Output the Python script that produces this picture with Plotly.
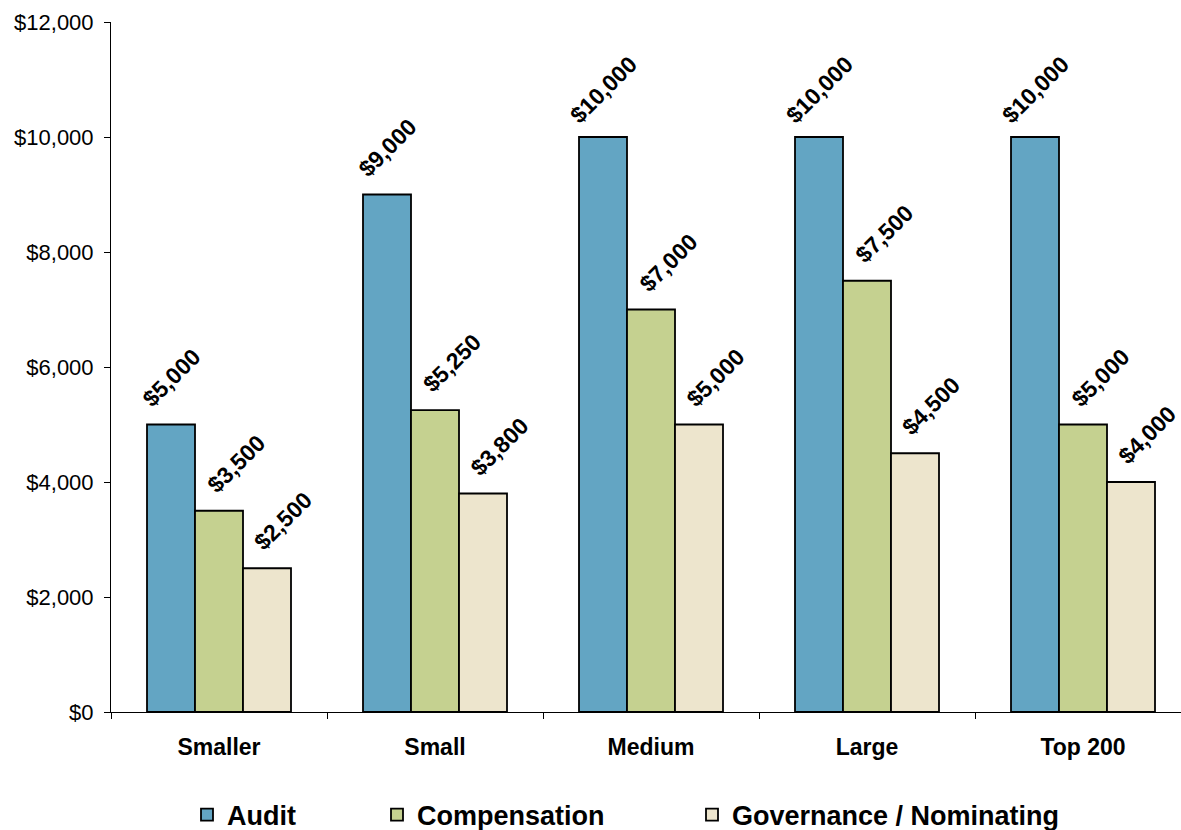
import plotly.graph_objects as go

# Median committee retainers by company size
categories = ["Smaller", "Small", "Medium", "Large", "Top 200"]
audit = [5000, 9000, 10000, 10000, 10000]
compensation = [3500, 5250, 7000, 7500, 5000]
governance = [2500, 3800, 5000, 4500, 4000]

series_names = ["Audit", "Compensation", "Governance / Nominating"]
series_values = [audit, compensation, governance]
series_colors = ["#63A5C3", "#C5D190", "#EDE5CD"]
legend_ids = ["legend", "legend2", "legend3"]

y_tick_vals = [0, 2000, 4000, 6000, 8000, 10000, 12000]
y_tick_text = ["$0", "$2,000", "$4,000", "$6,000", "$8,000", "$10,000", "$12,000"]

FONT = "Arial, Liberation Sans, sans-serif"

# Geometry of the plotting area (px)
WIDTH, HEIGHT = 1181, 830
M_L, M_R, M_T, M_B = 111, 0, 22, 118
CAT_PX = 216  # width of one category slot
plot_w = WIDTH - M_L - M_R
plot_h = HEIGHT - M_T - M_B
BARGAP = 1 / 3
n_series = len(series_names)
bar_w_units = (1 - BARGAP) / n_series

fig = go.Figure()
for name, vals, color, lg in zip(series_names, series_values, series_colors, legend_ids):
    fig.add_trace(go.Bar(
        name=name,
        x=categories,
        y=vals,
        marker=dict(color=color, line=dict(color="#000000", width=1.8)),
        legend=lg,
        hoverinfo="skip",
    ))

# Rotated value labels above each bar
label_dx = [0, 17, 16]
annotations = []
for s, vals in enumerate(series_values):
    offset = (s - (n_series - 1) / 2) * bar_w_units
    for i, v in enumerate(vals):
        annotations.append(dict(
            x=i + offset, y=v, xref="x", yref="y",
            text=f"${v:,.0f}",
            textangle=-45,
            showarrow=False,
            xanchor="center", yanchor="middle",
            xshift=label_dx[s], yshift=47,
            font=dict(family=FONT, size=23, color="#000000", weight="bold"),
        ))

# Legend entries laid out individually along the bottom
legend_text_px = [232, 422, 737]
legend_y = -(815 - (M_T + plot_h)) / plot_h
legend_layouts = {}
for lg, tx in zip(legend_ids, legend_text_px):
    legend_layouts[lg] = dict(
        orientation="h",
        x=(tx - 45 - M_L) / plot_w, xanchor="left",
        y=legend_y, yanchor="middle",
        font=dict(family=FONT, size=27, color="#000000", weight="bold"),
        bgcolor="rgba(0,0,0,0)",
        borderwidth=0,
    )

fig.update_layout(
    width=WIDTH, height=HEIGHT,
    margin=dict(l=M_L, r=M_R, t=M_T, b=M_B, pad=0, autoexpand=False),
    paper_bgcolor="#FFFFFF",
    plot_bgcolor="#FFFFFF",
    barmode="group",
    bargap=BARGAP,
    bargroupgap=0,
    showlegend=True,
    annotations=annotations,
    font=dict(family=FONT, color="#000000"),
    **legend_layouts,
)

fig.update_xaxes(
    type="category",
    range=[-0.5, -0.5 + plot_w / CAT_PX],
    showline=True, linecolor="#000000", linewidth=1,
    ticks="outside", tickson="boundaries", ticklen=6, tickcolor="#000000",
    tickfont=dict(family=FONT, size=23, color="#000000", weight="bold"),
    ticklabelstandoff=14,
    showgrid=False, zeroline=False,
)

fig.update_yaxes(
    range=[0, 12000],
    tickvals=y_tick_vals, ticktext=y_tick_text,
    showline=True, linecolor="#000000", linewidth=1,
    ticks="outside", ticklen=6, tickcolor="#000000",
    tickfont=dict(family=FONT, size=22, color="#000000"),
    ticklabelstandoff=6,
    showgrid=False, zeroline=False,
)

fig.write_html("out.html")
